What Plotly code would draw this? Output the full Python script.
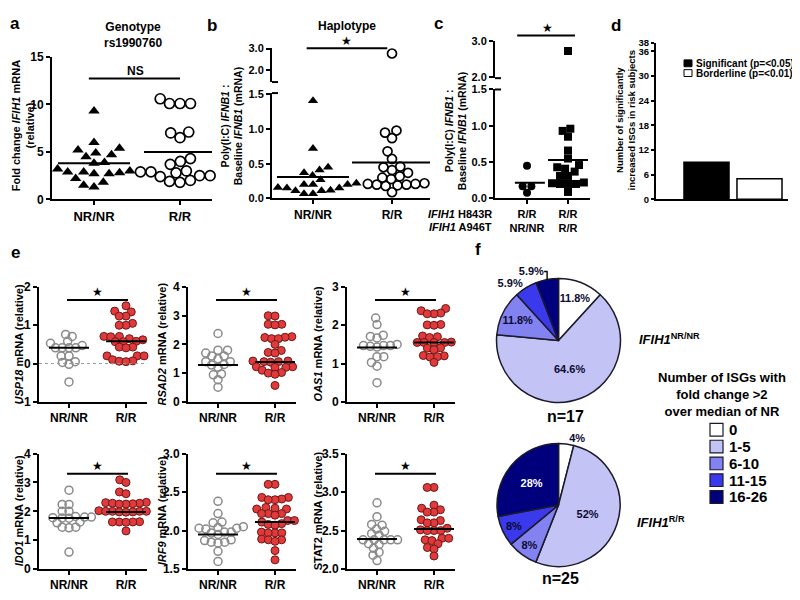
import plotly.graph_objects as go

# ---------------- data ----------------
groups = ["NR/NR", "R/R"]

# a: IFIH1 fold change, genotype rs1990760
a_nr = [9.3, 6.0, 5.4, 5.2, 4.9, 4.7, 4.5, 3.9, 3.8, 3.2, 3.0, 2.9, 2.9, 2.8, 2.7, 2.7, 2.2, 1.8, 1.5, 1.3]
a_rr = [10.6, 10.1, 10.1, 10.1, 7.1, 7.0, 6.5, 4.3, 4.0, 3.7, 3.0, 2.9, 2.9, 2.8, 2.5, 2.5, 2.4, 2.0, 1.9, 1.8]
a_lines = [3.8, 5.0]
a_ticks = [0, 5, 10, 15]

# b: Poly(I:C)/baseline IFNB1, haplotype
b_nr = [1.41, 0.72, 0.45, 0.41, 0.37, 0.33, 0.27, 0.22, 0.21, 0.20, 0.20, 0.20, 0.16, 0.15, 0.15, 0.12, 0.11, 0.11, 0.07, 0.07]
b_rr = [2.77, 0.98, 0.95, 0.87, 0.68, 0.57, 0.46, 0.45, 0.41, 0.37, 0.32, 0.30, 0.28, 0.22, 0.21, 0.21, 0.20, 0.20, 0.19, 0.18, 0.09]
b_lines = [0.31, 0.52]

# c: same readout split by H843R / A946T
c_groups = ["R/R<br>NR/NR", "R/R<br>R/R"]
c_g1 = [0.45, 0.17, 0.17, 0.08]
c_g2 = [2.73, 0.96, 0.93, 0.85, 0.66, 0.55, 0.46, 0.43, 0.41, 0.37, 0.31, 0.31, 0.22, 0.22, 0.21, 0.20, 0.20, 0.20, 0.09]
c_lines = [0.215, 0.53]

low_ticks = [0, 0.5, 1.0, 1.5]
low_text = ["0.0", "0.5", "1.0", "1.5"]
high_ticks = [2.0, 3.0]
high_text = ["2.0", "3.0"]

# d: number of increased ISGs
d_names = ["Significant (p=<0.05)", "Borderline (p=<0.01)"]
d_counts = [9, 5]
d_ticks = [0, 6, 12, 18, 24, 30, 36, 38]

# e: ISG expression
usp18_nr = [0.76, 0.71, 0.58, 0.53, 0.47, 0.41, 0.41, 0.41, 0.41, 0.20, 0.20, 0.05, 0.03, -0.02, -0.48]
usp18_rr = [1.51, 1.37, 1.35, 1.24, 1.24, 1.05, 1.00, 1.00, 0.71, 0.71, 0.70, 0.65, 0.62, 0.58, 0.57, 0.57,
            0.43, 0.43, 0.41, 0.20, 0.20, 0.20, 0.20, 0.10, 0.07, 0.06, 0.05]
rsad2_nr = [2.38, 1.80, 1.80, 1.70, 1.60, 1.60, 1.50, 1.40, 1.40, 1.30, 1.28, 1.20, 0.97, 0.94, 0.77, 0.51]
rsad2_rr = [3.00, 2.99, 2.70, 2.70, 2.68, 2.27, 2.25, 2.24, 2.20, 2.20, 2.00, 1.79, 1.72, 1.70, 1.42, 1.42,
            1.40, 1.40, 1.40, 1.38, 1.22, 1.22, 1.20, 1.20, 1.10, 1.02, 1.00, 0.96, 0.57]
oas1_nr = [2.19, 2.02, 1.74, 1.71, 1.67, 1.50, 1.47, 1.47, 1.47, 1.45, 1.43, 1.18, 1.18, 1.03, 0.93, 0.50]
oas1_rr = [2.44, 2.38, 2.32, 2.30, 2.30, 2.02, 2.01, 2.00, 1.72, 1.70, 1.68, 1.56, 1.55, 1.55, 1.55, 1.55,
           1.41, 1.40, 1.36, 1.21, 1.20, 1.18, 1.17, 1.03]
ido1_nr = [2.73, 2.24, 2.24, 2.00, 2.00, 1.82, 1.80, 1.80, 1.78, 1.77, 1.76, 1.63, 1.60, 1.45, 1.45, 1.43, 0.59]
ido1_rr = [3.09, 3.00, 2.67, 2.61, 2.31, 2.30, 2.28, 2.28, 2.26, 2.25, 2.25, 2.02, 2.00, 2.00, 2.00, 2.00,
           1.98, 1.98, 1.97, 1.64, 1.63, 1.63, 1.63, 1.62, 1.32]
irf9_nr = [2.38, 2.22, 2.11, 2.10, 2.05, 2.04, 2.03, 2.03, 2.02, 1.98, 1.98, 1.97, 1.95, 1.88, 1.87, 1.85,
           1.85, 1.84, 1.73, 1.60]
irf9_rr = [2.60, 2.60, 2.43, 2.43, 2.41, 2.40, 2.40, 2.30, 2.29, 2.28, 2.28, 2.22, 2.22, 2.22, 2.20, 2.13,
           2.13, 2.11, 2.09, 2.08, 2.07, 1.98, 1.97, 1.97, 1.97, 1.89, 1.88, 1.88, 1.86, 1.74, 1.62]
stat2_nr = [2.86, 2.68, 2.58, 2.57, 2.52, 2.49, 2.46, 2.44, 2.38, 2.38, 2.38, 2.38, 2.38, 2.33, 2.32, 2.27,
            2.22, 2.18, 2.11]
stat2_rr = [3.06, 3.06, 2.83, 2.79, 2.77, 2.74, 2.74, 2.64, 2.63, 2.60, 2.60, 2.53, 2.51, 2.50, 2.50, 2.50,
            2.40, 2.40, 2.38, 2.37, 2.33, 2.28, 2.26, 2.17]

e_titles = ["<i>USP18</i> mRNA (relative)", "<i>RSAD2</i> mRNA (relative)", "<i>OAS1</i> mRNA (relative)",
            "<i>IDO1</i> mRNA (relative)", "<i>IRF9</i> mRNA (relative)", "STAT2 mRNA (relative)"]
e_lines = [[0.41, 0.58], [1.28, 1.39], [1.42, 1.55], [1.77, 1.98], [1.95, 2.11], [2.39, 2.52]]
e_ranges = [[-1, 2], [0, 4], [0, 3], [0, 4], [1.5, 3.0], [2.0, 3.5]]
e_ticks = [[-1, 0, 1, 2], [0, 1, 2, 3, 4], [0, 1, 2, 3], [0, 1, 2, 3, 4],
           [1.5, 2.0, 2.5, 3.0], [2.0, 2.5, 3.0, 3.5]]
e_ticktext = [["-1", "0", "1", "2"], ["0", "1", "2", "3", "4"], ["0", "1", "2", "3"], ["0", "1", "2", "3", "4"],
              ["1.5", "2.0", "2.5", "3.0"], ["2.0", "2.5", "3.0", "3.5"]]

# f: ISGs with fold change >2 over median of NR
f_bins = ["0", "1-5", "6-10", "11-15", "16-26"]
f_nr_counts = [2, 11, 2, 1, 1]
f_nr_text = ["11.8%", "64.6%", "11.8%", "5.9%", "5.9%"]
f_rr_counts = [1, 13, 2, 2, 7]
f_rr_text = ["4%", "52%", "8%", "8%", "28%"]
f_colors = ["#ffffff", "#c3c3f6", "#8282f0", "#3a3aec", "#00007c"]

# ---------------- helpers ----------------
OFF = 8            # default body margin of the html page
FW, FH = 792, 584
FONT = "Arial, Liberation Sans, sans-serif"


def fx(px):
    return (px - OFF) / FW


def fy(py):
    return 1 - (py - OFF) / FH


def bold(size, color="black"):
    return dict(family=FONT, size=size, color=color, weight="bold")


AX = dict(showline=True, linecolor="black", linewidth=2, ticks="outside", ticklen=4, tickwidth=2,
          tickcolor="black", showgrid=False, zeroline=False, fixedrange=True)


def xname(n):
    return "x" if n == 1 else f"x{n}"


def yname(n):
    return "y" if n == 1 else f"y{n}"


def cat_x(xpx, cats, anchor, ticktext, size=12):
    ppu = cats[1] - cats[0]
    rng = [1 - (cats[0] - xpx[0]) / ppu, 2 + (xpx[1] - cats[1]) / ppu]
    ax = dict(AX, domain=[fx(xpx[0]), fx(xpx[1])], range=rng, anchor=anchor,
              tickvals=[1, 2], ticktext=ticktext, tickfont=bold(size))
    return ax, ppu


def val_y(ypx, rng, anchor, tickvals, ticktext=None, size=12, ticklen=4):
    ax = dict(AX, domain=[fy(ypx[1]), fy(ypx[0])], range=rng, anchor=anchor,
              tickvals=tickvals, tickfont=bold(size), ticklen=ticklen)
    if ticktext:
        ax["ticktext"] = ticktext
    return ax, (ypx[1] - ypx[0]) / (rng[1] - rng[0])


def swarm(vals, ypp, xpp, size):
    # simple beeswarm: each point goes to the free spot nearest the centre
    placed, off = [], [0.0] * len(vals)
    for i in sorted(range(len(vals)), key=lambda k: vals[k]):
        y = vals[i] * ypp
        cands, blocks = [0.0], []
        for yj, xj in placed:
            dy = abs(y - yj)
            if dy < size:
                dx = (size * size - dy * dy) ** 0.5
                blocks.append((xj - dx, xj + dx))
                cands += [xj - dx, xj + dx]
        ok = [c for c in cands if all(not (a + 1e-6 < c < b - 1e-6) for a, b in blocks)]
        x = min(ok, key=abs)
        placed.append((y, x))
        off[i] = x / xpp
    return off


fig = go.Figure()
lay = dict(width=FW, height=FH, margin=dict(l=0, r=0, t=0, b=0), paper_bgcolor="white",
           plot_bgcolor="rgba(0,0,0,0)", font=dict(family=FONT, color="black"), showlegend=False)
ann, shapes = [], []


def dots(xn, yn, vals, cat, ypp, xpp, marker, gap=1.0):
    if not vals:
        return
    off = swarm(vals, ypp, xpp, marker["size"] * gap)
    fig.add_trace(go.Scatter(x=[cat + o for o in off], y=vals, mode="markers", marker=marker,
                             xaxis=xn, yaxis=yn, showlegend=False, cliponaxis=False, hoverinfo="y"))


def mean_line(xn, yn, cat, val, half, width=2):
    fig.add_trace(go.Scatter(x=[cat - half, cat + half], y=[val, val], mode="lines",
                             line=dict(color="black", width=width), xaxis=xn, yaxis=yn,
                             showlegend=False, hoverinfo="skip"))


def note(text, x, y, size=12, xanchor="center", angle=0, font=None):
    ann.append(dict(text=text, x=fx(x), y=fy(y), xref="paper", yref="paper", showarrow=False,
                    font=font or bold(size), xanchor=xanchor, yanchor="middle", textangle=angle))


def star(xn, x, y):
    ann.append(dict(text="★", x=x, y=fy(y), xref=xn, yref="paper", showarrow=False,
                    font=dict(family="DejaVu Sans", size=12, color="black"), yanchor="middle"))


def sig_line(xn, x0, x1, y):
    shapes.append(dict(type="line", xref=xn, yref="paper", x0=x0, x1=x1, y0=fy(y), y1=fy(y),
                       line=dict(color="black", width=2)))


def hline_px(x0, x1, y, w=2):
    shapes.append(dict(type="line", xref="paper", yref="paper", x0=fx(x0), x1=fx(x1), y0=fy(y), y1=fy(y),
                       line=dict(color="black", width=w)))


TRI = dict(symbol="triangle-up", color="black")
RING = dict(symbol="circle-open", color="black", line=dict(width=1.7))

# ---------------- a ----------------
lay["xaxis"], ppu = cat_x([52, 212], [94, 180], "y", groups, 13)
lay["yaxis"], ypp = val_y([51, 197], [0, 15], "x", a_ticks)
dots("x", "y", a_nr, 1, ypp, ppu, dict(TRI, size=10), 1.05)
dots("x", "y", a_rr, 2, ypp, ppu, dict(RING, size=10), 1.05)
mean_line("x", "y", 1, a_lines[0], 36 / ppu)
mean_line("x", "y", 2, a_lines[1], 36 / ppu)
sig_line("x", 0.94, 2.0, 73)
note("NS", 135, 65, 12)
note("Genotype<br>rs1990760", 133, 29, 12)
note("Fold change <i>IFIH1</i> mRNA<br>(relative)", 23, 122, 11, angle=-90)
note("a", 15, 17, 17)

# ---------------- b (broken axis) ----------------
lay["xaxis2"], ppu = cat_x([272, 430], [313, 392], "y2", groups)
lay["yaxis2"], ypp_lo = val_y([88, 196], [0, 1.52], "x2", low_ticks, low_text, 11)
lay["yaxis3"], ypp_hi = val_y([41.7, 76.7], [1.44, 3.03], "x2", high_ticks, high_text, 11)
for vals, cat, mk in [(b_nr, 1, dict(TRI, size=9)), (b_rr, 2, dict(RING, size=9))]:
    dots("x2", "y2", [v for v in vals if v <= 1.5], cat, ypp_lo, ppu, mk)
    dots("x2", "y3", [v for v in vals if v > 1.5], cat, ypp_hi, ppu, mk)
mean_line("x2", "y2", 1, b_lines[0], 36 / ppu)
mean_line("x2", "y2", 2, b_lines[1], 40 / ppu)
sig_line("x2", 0.92, 1.94, 42)
star("x2", 1.43, 35)
note("Haplotype", 347, 19, 12)
note("Poly(I:C) <i>IFNB1</i> :<br>Baseline <i>IFNB1</i> (mRNA)", 232, 122, 10.5, angle=-90)
note("b", 212, 19, 17)
hline_px(272, 278, 76.7)
hline_px(272, 278, 88)

# ---------------- c (broken axis) ----------------
lay["xaxis3"], ppu = cat_x([495, 590], [527, 568], "y4", c_groups, 11)
lay["yaxis4"], ypp_lo = val_y([84.3, 196], [0, 1.5], "x3", low_ticks, low_text, 11)
lay["yaxis5"], ypp_hi = val_y([35, 72.7], [1.97, 3.0], "x3", high_ticks, high_text, 11)
for vals, cat, mk in [(c_g1, 1, dict(symbol="circle", color="black", size=8)),
                      (c_g2, 2, dict(symbol="square", color="black", size=8))]:
    dots("x3", "y4", [v for v in vals if v <= 1.5], cat, ypp_lo, ppu, mk)
    dots("x3", "y5", [v for v in vals if v > 1.5], cat, ypp_hi, ppu, mk)
mean_line("x3", "y4", 1.07, c_lines[0], 15 / ppu)
mean_line("x3", "y4", 2, c_lines[1], 20 / ppu)
sig_line("x3", 0.76, 2.17, 29)
star("x3", 1.49, 21)
note("Poly(I:C) <i>IFNB1</i> :<br>Baseline <i>IFNB1</i> (mRNA)", 456, 127, 10.5, angle=-90)
note("<i>IFIH1</i> H843R", 494, 212, 11, xanchor="right")
note("<i>IFIH1</i> A946T", 494, 225, 11, xanchor="right")
note("c", 438, 17, 17)
hline_px(495, 501, 72.7)
hline_px(495, 501, 84.3)

# ---------------- d ----------------
lay["xaxis4"] = dict(AX, domain=[fx(656), fx(788)], range=[-0.953, 1.538], anchor="y6",
                     showticklabels=False, ticks="")
lay["yaxis6"], _ = val_y([36.7, 196.7], [0, 38], "x4", d_ticks, None, 9.5, 3)
for i, (name, cnt, col) in enumerate(zip(d_names, d_counts, ["black", "white"])):
    fig.add_trace(go.Bar(x=[i], y=[cnt], width=0.85, name=name,
                         marker=dict(color=col, line=dict(color="black", width=1.5)),
                         xaxis="x4", yaxis="y6", showlegend=False))
    top = 54 + 10 * i
    shapes.append(dict(type="rect", xref="paper", yref="paper", x0=fx(684), x1=fx(692), y0=fy(top + 7), y1=fy(top),
                       fillcolor=col, line=dict(color="black", width=1)))
    note(name, 694, top + 3.5, 10, xanchor="left")
note("Number of significantly<br>increased ISGs in risk subjects", 625, 116, 9.5, angle=-90)
note("d", 616, 19, 17)

# ---------------- e ----------------
e_nr = [usp18_nr, rsad2_nr, oas1_nr, ido1_nr, irf9_nr, stat2_nr]
e_rr = [usp18_rr, rsad2_rr, oas1_rr, ido1_rr, irf9_rr, stat2_rr]
col_x = [39, 188, 347]
row_y = [(286.7, 404.3), (457.3, 575.7)]
title_x = [19, 162, 318]
NR_MK = dict(symbol="circle-open", color="#8a8a8a", size=8, line=dict(width=1.5))
RR_MK = dict(symbol="circle", color="#e2393a", size=8, line=dict(color="#6a1a1a", width=1))
for k in range(6):
    r, c = divmod(k, 3)
    xi, yi = 5 + k, 7 + k
    xn, yn = xname(xi), yname(yi)
    x0 = col_x[c]
    lay[f"xaxis{xi}"], ppu = cat_x([x0, x0 + 108], [x0 + 30, x0 + 87], yn, groups)
    lay[f"yaxis{yi}"], ypp = val_y(row_y[r], e_ranges[k], xn, e_ticks[k], e_ticktext[k])
    dots(xn, yn, e_nr[k], 1, ypp, ppu, NR_MK, 0.85)
    dots(xn, yn, e_rr[k], 2, ypp, ppu, RR_MK, 0.85)
    mean_line(xn, yn, 1, e_lines[k][0], 20 / ppu)
    mean_line(xn, yn, 2, e_lines[k][1], 20 / ppu)
    sy = 300 if r == 0 else 478
    sig_line(xn, 0.965, 2.035, sy)
    star(xn, 1.5, sy - 8)
    note(e_titles[k], title_x[c], (row_y[r][0] + row_y[r][1]) / 2, 11, angle=-90)
    if k == 0:
        shapes.append(dict(type="line", xref=f"{xn} domain", yref=yn, x0=0, x1=1, y0=0, y1=0,
                           line=dict(color="#999999", width=1, dash="dot")))
note("e", 15, 251, 17)

# ---------------- f ----------------
for counts, texts, ytop, ybot, pos, tcol in [
        (f_nr_counts, f_nr_text, 278, 405, ["inside", "inside", "inside", "outside", "outside"],
         ["#0a0a30"] * 5),
        (f_rr_counts, f_rr_text, 447, 573, ["outside", "inside", "inside", "inside", "inside"],
         ["#0a0a30"] * 4 + ["white"])]:
    fig.add_trace(go.Pie(labels=f_bins, values=counts, text=texts, textinfo="text", sort=False,
                         direction="clockwise", textposition=pos, insidetextorientation="horizontal",
                         textfont=dict(family=FONT, size=11, color=tcol, weight="bold"),
                         marker=dict(colors=f_colors, line=dict(color="#1a1a2a", width=1.5)),
                         domain=dict(x=[fx(495), fx(622)], y=[fy(ybot), fy(ytop)]),
                         showlegend=False, hoverinfo="label+value"))
note("n=17", 565, 419, 16)
note("n=25", 560, 585, 16)
note("<i>IFIH1</i><sup>NR/NR</sup>", 637, 340, 13, xanchor="left")
note("<i>IFIH1</i><sup>R/R</sup>", 635, 527, 13, xanchor="left")
note("Number of ISGs with<br>fold change >2<br>over median of NR", 722, 397, 13)
note("f", 478, 248, 17)
# colour key shared by both pies
for i, (lab, col) in enumerate(zip(f_bins, f_colors)):
    cy = 433 + 17.2 * i
    shapes.append(dict(type="rect", xref="paper", yref="paper", x0=fx(710), x1=fx(723), y0=fy(cy + 6.5),
                       y1=fy(cy - 6.5), fillcolor=col, line=dict(color="#1a1a2a", width=1.2)))
    note(lab, 727, cy, 15, xanchor="left")

lay["annotations"] = ann
lay["shapes"] = shapes
fig.update_layout(**lay)

fig.write_html("out.html")
